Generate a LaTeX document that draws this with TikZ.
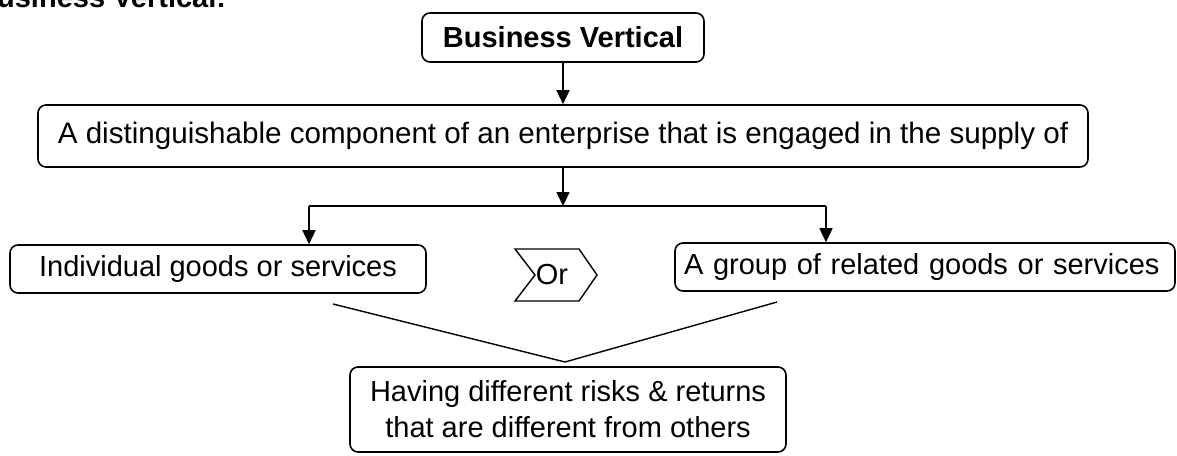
\documentclass[tikz,border=0pt]{standalone}
\usepackage{fontspec}
\setmainfont{Liberation Sans}
\usetikzlibrary{arrows.meta}
\tikzset{
  box/.style={draw, line width=1.6pt, rounded corners=8pt, inner sep=0pt, align=center,
              font=\fontsize{29pt}{36pt}\selectfont},
  conn/.style={line width=1.6pt},
  arr/.style={line width=1.6pt, -{Triangle[width=13pt,length=14pt]}},
  lbl/.style={inner sep=0pt, font=\fontsize{29pt}{36pt}\selectfont}
}
\begin{document}
\begin{tikzpicture}[x=1pt,y=-1pt]
\useasboundingbox (0,0) rectangle (1177,455);
\clip (0,0) rectangle (1177,455);
\fill[white] (0,0) rectangle (1177,455);

% heading at the top left, cut off by the top edge as in the reference
\node[lbl, anchor=base west, font=\fontsize{29pt}{36pt}\selectfont\bfseries] (title) at (-24,7) {Business Vertical:};

% boxes
\node[box, minimum width=282pt, minimum height=49pt, font=\fontsize{29pt}{36pt}\selectfont\bfseries] (bv) at (563,37.5) {Business Vertical};
\node[box, minimum width=1050pt, minimum height=62pt, font=\fontsize{29.6pt}{36pt}\selectfont] (main) at (563,136) {A distinguishable component of an enterprise that is engaged in the supply of};
\node[box, minimum width=416pt, minimum height=48pt] (ind) at (218,269) {Individual goods or services};
\node[box, text width=482pt, inner xsep=9pt, align=left, minimum height=48pt] (grp) at (925,267) {A group of related goods or services};
\node[box, minimum width=436pt, minimum height=85pt] (risk) at (568,409.5) {Having different risks \& returns\\that are different from others};

% "Or" chevron
\node[lbl] (or) at (552,275) {Or};
\draw[conn, line width=1.4pt] (515,249) -- (579,249) -- (597,275) -- (579,301) -- (515,301) -- (535,275) -- cycle;

% connectors
\coordinate (split) at (563,206);
\coordinate (L) at (309,206);
\coordinate (R) at (826,206);
\draw[arr] (bv.south) -- (main.north);
\draw[arr] (main.south) -- (split);
\draw[conn] (L) -- (R);
\draw[arr] (L) -- (L |- ind.north);
\draw[arr] (R) -- (R |- grp.north);

\coordinate (la) at (333,304);
\coordinate (apex) at (565,362);
\coordinate (ra) at (777,302);
\draw[conn, line width=1.4pt] (la) -- (apex) -- (ra);
\end{tikzpicture}
\end{document}
